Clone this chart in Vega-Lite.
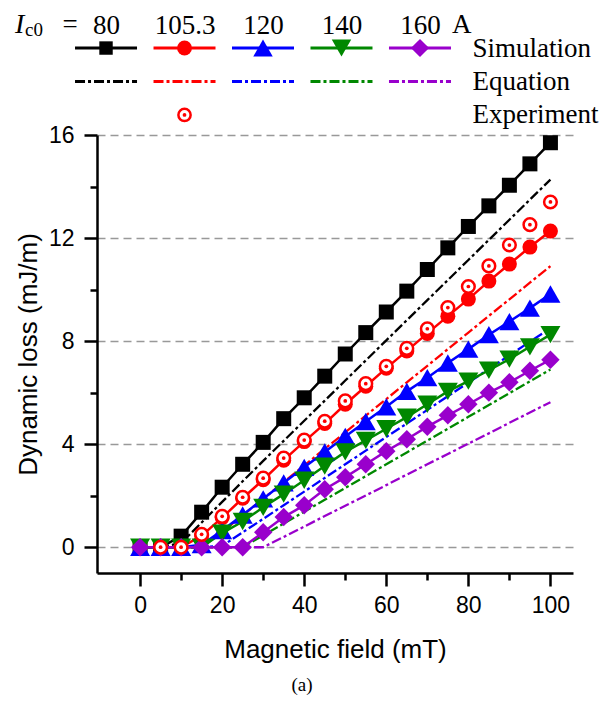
{
  "$schema": "https://vega.github.io/schema/vega-lite/v6.json",
  "padding": {"left": 15, "top": 11, "right": 5, "bottom": 5},
  "bounds": "flush",
  "spacing": 10,
  "config": {"view": {"stroke": null}, "font": "Liberation Sans"},
  "datasets": {
    "legend": [
      {"Ic0": "80", "kind": "Simulation"}, {"Ic0": "105.3", "kind": "Simulation"}, {"Ic0": "120", "kind": "Simulation"}, {"Ic0": "140", "kind": "Simulation"}, {"Ic0": "160", "kind": "Simulation"},
      {"Ic0": "80", "kind": "Equation"}, {"Ic0": "105.3", "kind": "Equation"}, {"Ic0": "120", "kind": "Equation"}, {"Ic0": "140", "kind": "Equation"}, {"Ic0": "160", "kind": "Equation"},
      {"Ic0": "105.3", "kind": "Experiment"}
    ],
    "loss": [
      {"B":0,"Ic0":"80","kind":"Equation","loss":0},{"B":5,"Ic0":"80","kind":"Equation","loss":0},{"B":10,"Ic0":"80","kind":"Equation","loss":0.16},{"B":15,"Ic0":"80","kind":"Equation","loss":0.96},{"B":20,"Ic0":"80","kind":"Equation","loss":1.76},{"B":25,"Ic0":"80","kind":"Equation","loss":2.56},{"B":30,"Ic0":"80","kind":"Equation","loss":3.35},{"B":35,"Ic0":"80","kind":"Equation","loss":4.13},{"B":40,"Ic0":"80","kind":"Equation","loss":4.91},{"B":45,"Ic0":"80","kind":"Equation","loss":5.69},{"B":50,"Ic0":"80","kind":"Equation","loss":6.47},{"B":55,"Ic0":"80","kind":"Equation","loss":7.25},{"B":60,"Ic0":"80","kind":"Equation","loss":8.03},{"B":65,"Ic0":"80","kind":"Equation","loss":8.81},{"B":70,"Ic0":"80","kind":"Equation","loss":9.59},{"B":75,"Ic0":"80","kind":"Equation","loss":10.37},{"B":80,"Ic0":"80","kind":"Equation","loss":11.15},{"B":85,"Ic0":"80","kind":"Equation","loss":11.93},{"B":90,"Ic0":"80","kind":"Equation","loss":12.71},{"B":95,"Ic0":"80","kind":"Equation","loss":13.49},{"B":100,"Ic0":"80","kind":"Equation","loss":14.27},
      {"B":0,"Ic0":"105.3","kind":"Equation","loss":0},{"B":5,"Ic0":"105.3","kind":"Equation","loss":0},{"B":10,"Ic0":"105.3","kind":"Equation","loss":0},{"B":15,"Ic0":"105.3","kind":"Equation","loss":0},{"B":20,"Ic0":"105.3","kind":"Equation","loss":0.59},{"B":25,"Ic0":"105.3","kind":"Equation","loss":1.24},{"B":30,"Ic0":"105.3","kind":"Equation","loss":1.88},{"B":35,"Ic0":"105.3","kind":"Equation","loss":2.53},{"B":40,"Ic0":"105.3","kind":"Equation","loss":3.17},{"B":45,"Ic0":"105.3","kind":"Equation","loss":3.82},{"B":50,"Ic0":"105.3","kind":"Equation","loss":4.46},{"B":55,"Ic0":"105.3","kind":"Equation","loss":5.11},{"B":60,"Ic0":"105.3","kind":"Equation","loss":5.75},{"B":65,"Ic0":"105.3","kind":"Equation","loss":6.4},{"B":70,"Ic0":"105.3","kind":"Equation","loss":7.04},{"B":75,"Ic0":"105.3","kind":"Equation","loss":7.69},{"B":80,"Ic0":"105.3","kind":"Equation","loss":8.33},{"B":85,"Ic0":"105.3","kind":"Equation","loss":8.98},{"B":90,"Ic0":"105.3","kind":"Equation","loss":9.62},{"B":95,"Ic0":"105.3","kind":"Equation","loss":10.27},{"B":100,"Ic0":"105.3","kind":"Equation","loss":10.91},
      {"B":0,"Ic0":"120","kind":"Equation","loss":0},{"B":5,"Ic0":"120","kind":"Equation","loss":0},{"B":10,"Ic0":"120","kind":"Equation","loss":0},{"B":15,"Ic0":"120","kind":"Equation","loss":0},{"B":20,"Ic0":"120","kind":"Equation","loss":0.05},{"B":25,"Ic0":"120","kind":"Equation","loss":0.58},{"B":30,"Ic0":"120","kind":"Equation","loss":1.1},{"B":35,"Ic0":"120","kind":"Equation","loss":1.63},{"B":40,"Ic0":"120","kind":"Equation","loss":2.16},{"B":45,"Ic0":"120","kind":"Equation","loss":2.69},{"B":50,"Ic0":"120","kind":"Equation","loss":3.22},{"B":55,"Ic0":"120","kind":"Equation","loss":3.75},{"B":60,"Ic0":"120","kind":"Equation","loss":4.28},{"B":65,"Ic0":"120","kind":"Equation","loss":4.8},{"B":70,"Ic0":"120","kind":"Equation","loss":5.33},{"B":75,"Ic0":"120","kind":"Equation","loss":5.86},{"B":80,"Ic0":"120","kind":"Equation","loss":6.39},{"B":85,"Ic0":"120","kind":"Equation","loss":6.92},{"B":90,"Ic0":"120","kind":"Equation","loss":7.45},{"B":95,"Ic0":"120","kind":"Equation","loss":7.98},{"B":100,"Ic0":"120","kind":"Equation","loss":8.5},
      {"B":0,"Ic0":"140","kind":"Equation","loss":0},{"B":5,"Ic0":"140","kind":"Equation","loss":0},{"B":10,"Ic0":"140","kind":"Equation","loss":0},{"B":15,"Ic0":"140","kind":"Equation","loss":0},{"B":20,"Ic0":"140","kind":"Equation","loss":0},{"B":25,"Ic0":"140","kind":"Equation","loss":0},{"B":30,"Ic0":"140","kind":"Equation","loss":0.46},{"B":35,"Ic0":"140","kind":"Equation","loss":0.92},{"B":40,"Ic0":"140","kind":"Equation","loss":1.38},{"B":45,"Ic0":"140","kind":"Equation","loss":1.84},{"B":50,"Ic0":"140","kind":"Equation","loss":2.3},{"B":55,"Ic0":"140","kind":"Equation","loss":2.76},{"B":60,"Ic0":"140","kind":"Equation","loss":3.22},{"B":65,"Ic0":"140","kind":"Equation","loss":3.68},{"B":70,"Ic0":"140","kind":"Equation","loss":4.14},{"B":75,"Ic0":"140","kind":"Equation","loss":4.6},{"B":80,"Ic0":"140","kind":"Equation","loss":5.06},{"B":85,"Ic0":"140","kind":"Equation","loss":5.52},{"B":90,"Ic0":"140","kind":"Equation","loss":5.98},{"B":95,"Ic0":"140","kind":"Equation","loss":6.44},{"B":100,"Ic0":"140","kind":"Equation","loss":6.9},
      {"B":0,"Ic0":"160","kind":"Equation","loss":0},{"B":5,"Ic0":"160","kind":"Equation","loss":0},{"B":10,"Ic0":"160","kind":"Equation","loss":0},{"B":15,"Ic0":"160","kind":"Equation","loss":0},{"B":20,"Ic0":"160","kind":"Equation","loss":0},{"B":25,"Ic0":"160","kind":"Equation","loss":0},{"B":30,"Ic0":"160","kind":"Equation","loss":0},{"B":35,"Ic0":"160","kind":"Equation","loss":0.4},{"B":40,"Ic0":"160","kind":"Equation","loss":0.8},{"B":45,"Ic0":"160","kind":"Equation","loss":1.21},{"B":50,"Ic0":"160","kind":"Equation","loss":1.61},{"B":55,"Ic0":"160","kind":"Equation","loss":2.01},{"B":60,"Ic0":"160","kind":"Equation","loss":2.41},{"B":65,"Ic0":"160","kind":"Equation","loss":2.82},{"B":70,"Ic0":"160","kind":"Equation","loss":3.22},{"B":75,"Ic0":"160","kind":"Equation","loss":3.62},{"B":80,"Ic0":"160","kind":"Equation","loss":4.02},{"B":85,"Ic0":"160","kind":"Equation","loss":4.42},{"B":90,"Ic0":"160","kind":"Equation","loss":4.83},{"B":95,"Ic0":"160","kind":"Equation","loss":5.23},{"B":100,"Ic0":"160","kind":"Equation","loss":5.63},
      {"B":0,"Ic0":"80","kind":"Simulation","loss":0},{"B":5,"Ic0":"80","kind":"Simulation","loss":0},{"B":10,"Ic0":"80","kind":"Simulation","loss":0.43},{"B":15,"Ic0":"80","kind":"Simulation","loss":1.36},{"B":20,"Ic0":"80","kind":"Simulation","loss":2.33},{"B":25,"Ic0":"80","kind":"Simulation","loss":3.22},{"B":30,"Ic0":"80","kind":"Simulation","loss":4.07},{"B":35,"Ic0":"80","kind":"Simulation","loss":4.99},{"B":40,"Ic0":"80","kind":"Simulation","loss":5.8},{"B":45,"Ic0":"80","kind":"Simulation","loss":6.64},{"B":50,"Ic0":"80","kind":"Simulation","loss":7.5},{"B":55,"Ic0":"80","kind":"Simulation","loss":8.33},{"B":60,"Ic0":"80","kind":"Simulation","loss":9.13},{"B":65,"Ic0":"80","kind":"Simulation","loss":9.94},{"B":70,"Ic0":"80","kind":"Simulation","loss":10.78},{"B":75,"Ic0":"80","kind":"Simulation","loss":11.62},{"B":80,"Ic0":"80","kind":"Simulation","loss":12.45},{"B":85,"Ic0":"80","kind":"Simulation","loss":13.25},{"B":90,"Ic0":"80","kind":"Simulation","loss":14.05},{"B":95,"Ic0":"80","kind":"Simulation","loss":14.88},{"B":100,"Ic0":"80","kind":"Simulation","loss":15.7},
      {"B":0,"Ic0":"105.3","kind":"Simulation","loss":0},{"B":5,"Ic0":"105.3","kind":"Simulation","loss":0},{"B":10,"Ic0":"105.3","kind":"Simulation","loss":0},{"B":15,"Ic0":"105.3","kind":"Simulation","loss":0.45},{"B":20,"Ic0":"105.3","kind":"Simulation","loss":1.15},{"B":25,"Ic0":"105.3","kind":"Simulation","loss":1.9},{"B":30,"Ic0":"105.3","kind":"Simulation","loss":2.62},{"B":35,"Ic0":"105.3","kind":"Simulation","loss":3.38},{"B":40,"Ic0":"105.3","kind":"Simulation","loss":4.1},{"B":45,"Ic0":"105.3","kind":"Simulation","loss":4.8},{"B":50,"Ic0":"105.3","kind":"Simulation","loss":5.55},{"B":55,"Ic0":"105.3","kind":"Simulation","loss":6.25},{"B":60,"Ic0":"105.3","kind":"Simulation","loss":6.95},{"B":65,"Ic0":"105.3","kind":"Simulation","loss":7.62},{"B":70,"Ic0":"105.3","kind":"Simulation","loss":8.3},{"B":75,"Ic0":"105.3","kind":"Simulation","loss":8.97},{"B":80,"Ic0":"105.3","kind":"Simulation","loss":9.63},{"B":85,"Ic0":"105.3","kind":"Simulation","loss":10.33},{"B":90,"Ic0":"105.3","kind":"Simulation","loss":10.99},{"B":95,"Ic0":"105.3","kind":"Simulation","loss":11.65},{"B":100,"Ic0":"105.3","kind":"Simulation","loss":12.27},
      {"B":0,"Ic0":"120","kind":"Simulation","loss":0},{"B":5,"Ic0":"120","kind":"Simulation","loss":0},{"B":10,"Ic0":"120","kind":"Simulation","loss":0},{"B":15,"Ic0":"120","kind":"Simulation","loss":0.1},{"B":20,"Ic0":"120","kind":"Simulation","loss":0.65},{"B":25,"Ic0":"120","kind":"Simulation","loss":1.25},{"B":30,"Ic0":"120","kind":"Simulation","loss":1.88},{"B":35,"Ic0":"120","kind":"Simulation","loss":2.5},{"B":40,"Ic0":"120","kind":"Simulation","loss":3.1},{"B":45,"Ic0":"120","kind":"Simulation","loss":3.7},{"B":50,"Ic0":"120","kind":"Simulation","loss":4.3},{"B":55,"Ic0":"120","kind":"Simulation","loss":4.88},{"B":60,"Ic0":"120","kind":"Simulation","loss":5.45},{"B":65,"Ic0":"120","kind":"Simulation","loss":6.05},{"B":70,"Ic0":"120","kind":"Simulation","loss":6.58},{"B":75,"Ic0":"120","kind":"Simulation","loss":7.15},{"B":80,"Ic0":"120","kind":"Simulation","loss":7.69},{"B":85,"Ic0":"120","kind":"Simulation","loss":8.25},{"B":90,"Ic0":"120","kind":"Simulation","loss":8.76},{"B":95,"Ic0":"120","kind":"Simulation","loss":9.28},{"B":100,"Ic0":"120","kind":"Simulation","loss":9.83},
      {"B":0,"Ic0":"140","kind":"Simulation","loss":0},{"B":5,"Ic0":"140","kind":"Simulation","loss":0},{"B":10,"Ic0":"140","kind":"Simulation","loss":0},{"B":15,"Ic0":"140","kind":"Simulation","loss":0},{"B":20,"Ic0":"140","kind":"Simulation","loss":0.55},{"B":25,"Ic0":"140","kind":"Simulation","loss":1.0},{"B":30,"Ic0":"140","kind":"Simulation","loss":1.55},{"B":35,"Ic0":"140","kind":"Simulation","loss":2.06},{"B":40,"Ic0":"140","kind":"Simulation","loss":2.6},{"B":45,"Ic0":"140","kind":"Simulation","loss":3.15},{"B":50,"Ic0":"140","kind":"Simulation","loss":3.7},{"B":55,"Ic0":"140","kind":"Simulation","loss":4.15},{"B":60,"Ic0":"140","kind":"Simulation","loss":4.6},{"B":65,"Ic0":"140","kind":"Simulation","loss":5.05},{"B":70,"Ic0":"140","kind":"Simulation","loss":5.55},{"B":75,"Ic0":"140","kind":"Simulation","loss":6.05},{"B":80,"Ic0":"140","kind":"Simulation","loss":6.45},{"B":85,"Ic0":"140","kind":"Simulation","loss":6.87},{"B":90,"Ic0":"140","kind":"Simulation","loss":7.3},{"B":95,"Ic0":"140","kind":"Simulation","loss":7.78},{"B":100,"Ic0":"140","kind":"Simulation","loss":8.25},
      {"B":0,"Ic0":"160","kind":"Simulation","loss":0},{"B":5,"Ic0":"160","kind":"Simulation","loss":0},{"B":10,"Ic0":"160","kind":"Simulation","loss":0},{"B":15,"Ic0":"160","kind":"Simulation","loss":0},{"B":20,"Ic0":"160","kind":"Simulation","loss":0},{"B":25,"Ic0":"160","kind":"Simulation","loss":0},{"B":30,"Ic0":"160","kind":"Simulation","loss":0.58},{"B":35,"Ic0":"160","kind":"Simulation","loss":1.17},{"B":40,"Ic0":"160","kind":"Simulation","loss":1.63},{"B":45,"Ic0":"160","kind":"Simulation","loss":2.25},{"B":50,"Ic0":"160","kind":"Simulation","loss":2.72},{"B":55,"Ic0":"160","kind":"Simulation","loss":3.22},{"B":60,"Ic0":"160","kind":"Simulation","loss":3.73},{"B":65,"Ic0":"160","kind":"Simulation","loss":4.19},{"B":70,"Ic0":"160","kind":"Simulation","loss":4.68},{"B":75,"Ic0":"160","kind":"Simulation","loss":5.12},{"B":80,"Ic0":"160","kind":"Simulation","loss":5.55},{"B":85,"Ic0":"160","kind":"Simulation","loss":6.0},{"B":90,"Ic0":"160","kind":"Simulation","loss":6.4},{"B":95,"Ic0":"160","kind":"Simulation","loss":6.85},{"B":100,"Ic0":"160","kind":"Simulation","loss":7.28},
      {"B":5,"Ic0":"105.3","kind":"Experiment","loss":0},{"B":10,"Ic0":"105.3","kind":"Experiment","loss":0},{"B":15,"Ic0":"105.3","kind":"Experiment","loss":0.5},{"B":20,"Ic0":"105.3","kind":"Experiment","loss":1.2},{"B":25,"Ic0":"105.3","kind":"Experiment","loss":1.94},{"B":30,"Ic0":"105.3","kind":"Experiment","loss":2.68},{"B":35,"Ic0":"105.3","kind":"Experiment","loss":3.46},{"B":40,"Ic0":"105.3","kind":"Experiment","loss":4.16},{"B":45,"Ic0":"105.3","kind":"Experiment","loss":4.89},{"B":50,"Ic0":"105.3","kind":"Experiment","loss":5.68},{"B":55,"Ic0":"105.3","kind":"Experiment","loss":6.35},{"B":60,"Ic0":"105.3","kind":"Experiment","loss":7.02},{"B":65,"Ic0":"105.3","kind":"Experiment","loss":7.72},{"B":70,"Ic0":"105.3","kind":"Experiment","loss":8.48},{"B":75,"Ic0":"105.3","kind":"Experiment","loss":9.3},{"B":80,"Ic0":"105.3","kind":"Experiment","loss":10.12},{"B":85,"Ic0":"105.3","kind":"Experiment","loss":10.92},{"B":90,"Ic0":"105.3","kind":"Experiment","loss":11.73},{"B":95,"Ic0":"105.3","kind":"Experiment","loss":12.52},{"B":100,"Ic0":"105.3","kind":"Experiment","loss":13.4}
    ]
  },
  "vconcat": [
    {
      "width": 370,
      "height": 87,
      "data": {"name": "legend"},
      "encoding": {
        "x": {"field": "Ic0", "type": "nominal",
          "scale": {"type": "point", "domain": ["80", "105.3", "120", "140", "160"], "padding": 0.357, "align": 0.161},
          "axis": {"orient": "top", "title": null, "domain": false, "ticks": false, "tickSize": 0, "grid": false, "labelAngle": 0, "labelFont": "Liberation Serif", "labelFontSize": 27, "labelColor": "#000000", "labelPadding": 5, "labelBaseline": "alphabetic"}},
        "y": {"field": "kind", "type": "nominal",
          "scale": {"type": "point", "domain": ["Simulation", "Equation", "Experiment"], "padding": 0.3},
          "axis": {"orient": "right", "title": null, "domain": false, "ticks": false, "tickSize": 0, "grid": false, "labelFont": "Liberation Serif", "labelFontSize": 27, "labelColor": "#000000", "labelPadding": 5}}
      },
      "layer": [
        {"transform": [{"filter": "datum.kind === 'Simulation'"}],
          "mark": {"type": "rule", "strokeWidth": 3, "xOffset": -31, "x2Offset": 31},
          "encoding": {"x2": {"field": "Ic0"},
            "color": {"field": "Ic0", "type": "nominal", "scale": {"domain": ["80", "105.3", "120", "140", "160"], "range": ["#000000", "#ff0000", "#0000ff", "#008800", "#9900cc"]}, "legend": null}}},
        {"transform": [{"filter": "datum.kind === 'Simulation'"}],
          "mark": {"type": "point", "filled": true, "opacity": 1},
          "encoding": {
            "color": {"field": "Ic0", "type": "nominal", "scale": {"domain": ["80", "105.3", "120", "140", "160"], "range": ["#000000", "#ff0000", "#0000ff", "#008800", "#9900cc"]}, "legend": null},
            "shape": {"field": "Ic0", "type": "nominal", "scale": {"domain": ["80", "105.3", "120", "140", "160"], "range": ["square", "circle", "triangle-up", "triangle-down", "diamond"]}, "legend": null},
            "size": {"field": "Ic0", "type": "nominal", "scale": {"type": "ordinal", "domain": ["80", "105.3", "120", "140", "160"], "range": [180, 220, 380, 380, 330]}, "legend": null}}},
        {"transform": [{"filter": "datum.kind === 'Equation'"}],
          "mark": {"type": "rule", "strokeWidth": 3, "strokeDash": [10, 3, 3, 3], "xOffset": -31, "x2Offset": 31},
          "encoding": {"x2": {"field": "Ic0"},
            "color": {"field": "Ic0", "type": "nominal", "scale": {"domain": ["80", "105.3", "120", "140", "160"], "range": ["#000000", "#ff0000", "#0000ff", "#008800", "#9900cc"]}, "legend": null}}},
        {"transform": [{"filter": "datum.kind === 'Experiment'"}],
          "mark": {"type": "point", "shape": "circle", "filled": true, "fill": "#ffffff", "stroke": "#ff0000", "strokeWidth": 2.5, "size": 150, "opacity": 1}},
        {"transform": [{"filter": "datum.kind === 'Experiment'"}],
          "mark": {"type": "point", "shape": "circle", "filled": true, "fill": "#ff0000", "size": 14, "opacity": 1}},
        {"data": {"values": [{"t": "I"}]},
          "mark": {"type": "text", "font": "Liberation Serif", "fontStyle": "italic", "fontSize": 28, "align": "left", "baseline": "alphabetic", "dx": -91, "dy": -15, "color": "#000000"},
          "encoding": {"x": {"datum": "80"}, "y": {"datum": "Simulation"}, "text": {"field": "t"}}},
        {"data": {"values": [{"t": "c0"}]},
          "mark": {"type": "text", "font": "Liberation Serif", "fontSize": 19, "align": "left", "baseline": "alphabetic", "dx": -81, "dy": -12, "color": "#000000"},
          "encoding": {"x": {"datum": "80"}, "y": {"datum": "Simulation"}, "text": {"field": "t"}}},
        {"data": {"values": [{"t": "="}]},
          "mark": {"type": "text", "font": "Liberation Serif", "fontSize": 27, "align": "center", "baseline": "alphabetic", "dx": -36, "dy": -15, "color": "#000000"},
          "encoding": {"x": {"datum": "80"}, "y": {"datum": "Simulation"}, "text": {"field": "t"}}},
        {"data": {"values": [{"t": "A"}]},
          "mark": {"type": "text", "font": "Liberation Serif", "fontSize": 27, "align": "left", "baseline": "alphabetic", "dx": 32, "dy": -15, "color": "#000000"},
          "encoding": {"x": {"datum": "160"}, "y": {"datum": "Simulation"}, "text": {"field": "t"}}}
      ]
    },
    {
      "width": 476,
      "height": 438,
      "data": {"name": "loss"},
      "title": {"text": "(a)", "orient": "bottom", "frame": "group", "anchor": "middle", "font": "Liberation Serif", "fontSize": 19, "fontWeight": "normal", "color": "#000000", "offset": 14, "dx": -33},
      "encoding": {
        "x": {"field": "B", "type": "quantitative",
          "scale": {"domain": [-10.5, 105.5], "nice": false, "zero": false},
          "axis": {"title": "Magnetic field (mT)", "values": [0, 10, 20, 30, 40, 50, 60, 70, 80, 90, 100],
            "labelExpr": "datum.value % 20 === 0 ? datum.label : ''",
            "grid": false, "domainColor": "#000000", "domainWidth": 2.5,
            "tickColor": "#000000", "tickWidth": 2.5,
            "tickSize": {"condition": {"test": "datum.value % 20 === 0", "value": 13}, "value": 7},
            "labelFont": "Liberation Sans", "labelFontSize": 23, "labelColor": "#000000", "labelPadding": 8, "labelFlush": false, "labelOverlap": false,
            "titleFont": "Liberation Sans", "titleFontSize": 26, "titleFontWeight": "normal", "titleColor": "#000000", "titlePadding": 19}},
        "y": {"field": "loss", "type": "quantitative",
          "scale": {"domain": [-1, 16], "nice": false, "zero": false},
          "axis": {"title": "Dynamic loss (mJ/m)", "values": [0, 2, 4, 6, 8, 10, 12, 14, 16],
            "labelExpr": "datum.value % 4 === 0 ? datum.label : ''",
            "grid": true, "gridColor": "#999999", "gridDash": [8, 5], "gridWidth": 1.5,
            "gridOpacity": {"condition": {"test": "datum.value % 4 === 0", "value": 1}, "value": 0},
            "domainColor": "#000000", "domainWidth": 2.5,
            "tickColor": "#000000", "tickWidth": 2.5,
            "tickSize": {"condition": {"test": "datum.value % 4 === 0", "value": 13}, "value": 7},
            "labelFont": "Liberation Sans", "labelFontSize": 23, "labelColor": "#000000", "labelPadding": 10, "labelFlush": false, "labelOverlap": false,
            "titleFont": "Liberation Sans", "titleFontSize": 26, "titleFontWeight": "normal", "titleColor": "#000000", "titlePadding": 7}}
      },
      "layer": [
        {"transform": [{"filter": "datum.kind === 'Equation'"}],
          "mark": {"type": "line", "strokeWidth": 2.3, "strokeDash": [10, 3, 3, 3]},
          "encoding": {"color": {"field": "Ic0", "type": "nominal", "scale": {"domain": ["80", "105.3", "120", "140", "160"], "range": ["#000000", "#ff0000", "#0000ff", "#008800", "#9900cc"]}, "legend": null}}},
        {"transform": [{"filter": "datum.kind === 'Simulation'"}],
          "mark": {"type": "line", "strokeWidth": 2.5},
          "encoding": {"color": {"field": "Ic0", "type": "nominal", "scale": {"domain": ["80", "105.3", "120", "140", "160"], "range": ["#000000", "#ff0000", "#0000ff", "#008800", "#9900cc"]}, "legend": null}}},
        {"transform": [{"filter": "datum.kind === 'Simulation'"}],
          "mark": {"type": "point", "filled": true, "opacity": 1},
          "encoding": {
            "color": {"field": "Ic0", "type": "nominal", "scale": {"domain": ["80", "105.3", "120", "140", "160"], "range": ["#000000", "#ff0000", "#0000ff", "#008800", "#9900cc"]}, "legend": null},
            "shape": {"field": "Ic0", "type": "nominal", "scale": {"domain": ["80", "105.3", "120", "140", "160"], "range": ["square", "circle", "triangle-up", "triangle-down", "diamond"]}, "legend": null},
            "size": {"field": "Ic0", "type": "nominal", "scale": {"type": "ordinal", "domain": ["80", "105.3", "120", "140", "160"], "range": [225, 225, 400, 400, 340]}, "legend": null}}},
        {"transform": [{"filter": "datum.kind === 'Experiment'"}],
          "mark": {"type": "point", "shape": "circle", "filled": true, "fill": "#ffffff", "stroke": "#ff0000", "strokeWidth": 2.5, "size": 160, "opacity": 1}},
        {"transform": [{"filter": "datum.kind === 'Experiment'"}],
          "mark": {"type": "point", "shape": "circle", "filled": true, "fill": "#ff0000", "size": 14, "opacity": 1}}
      ]
    }
  ],
  "resolve": {"scale": {"color": "independent", "shape": "independent", "size": "independent"}}
}
